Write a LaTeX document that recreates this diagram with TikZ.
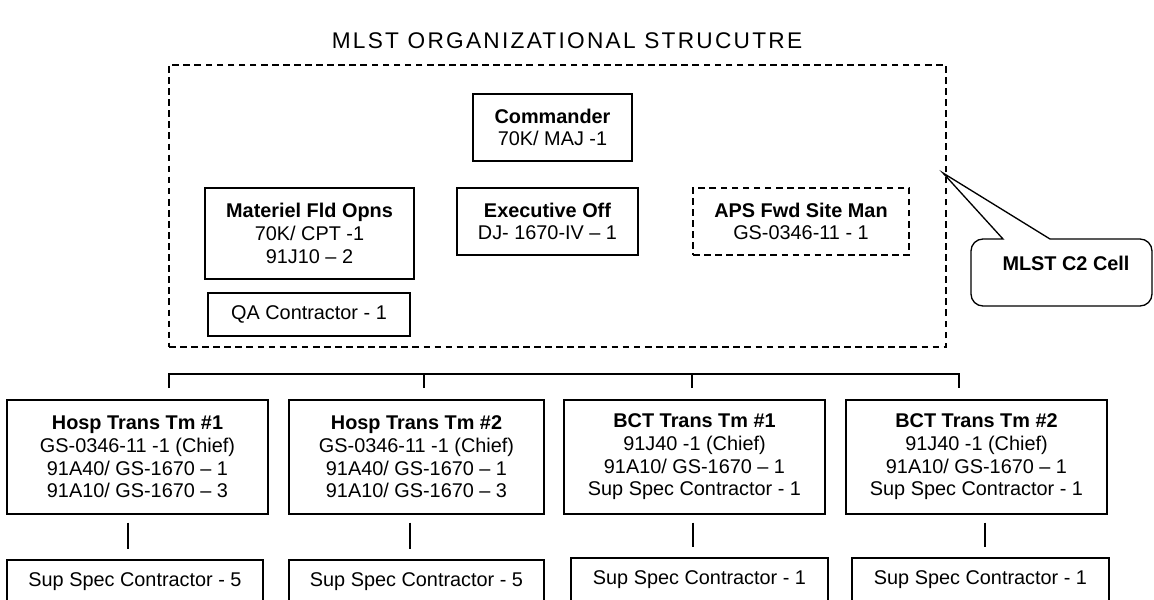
\documentclass[tikz,border=0pt]{standalone}
\usepackage{fontspec}
\setmainfont{Liberation Sans}
\usetikzlibrary{calc}

\tikzset{
  sz/.style 2 args={minimum width=#1*0.75pt, minimum height=#2*0.75pt},
  unitbox/.style={draw, line width=1.1pt, align=center, inner sep=0pt,
    font=\fontsize{14.9}{17}\selectfont},
  dashbox/.style={unitbox, dash pattern=on 5pt off 3.3pt},
  cellframe/.style={draw, line width=1.1pt, dash pattern=on 5pt off 3.3pt, inner sep=0pt},
  bus/.style={line width=1.1pt},
  stem/.style={line width=0.9pt},
  callout/.style={line width=1pt},
}

\begin{document}
\begin{tikzpicture}[x=0.75pt, y=-0.75pt]
  \useasboundingbox (0,0) rectangle (1154,600);
  %%%%% TITLE %%%%%
  \node[anchor=base, inner sep=0pt,
    font=\fontsize{17}{20}\selectfont\addfontfeatures{LetterSpace=10}] (title) at (567,48)
    {MLST ORGANIZATIONAL STRUCUTRE};

  %%%%% C2 CELL %%%%%
  \node[cellframe, sz={777}{282}] (c2) at (557.5,206) {};
  \node[unitbox, sz={159}{67}] (cmdr) at (552.5,127.5) {\textbf{Commander}\\70K/ MAJ -1};
  \node[unitbox, sz={209}{91}] (matl) at (309.5,233.5) {\textbf{Materiel Fld Opns}\\70K/ CPT -1\\91J10 – 2};
  \node[unitbox, sz={181}{67}] (xo) at (547.5,221.5) {\textbf{Executive Off}\\DJ- 1670-IV – 1};
  \node[dashbox, sz={216}{67}] (aps) at (801,221.5) {\textbf{APS Fwd Site Man}\\GS-0346-11 - 1};
  \node[unitbox, sz={202}{43}] (qa) at (309,314.5) {QA Contractor - 1};

  %%%%% CALLOUT %%%%%
  \coordinate (tip) at (943,173);
  \draw[callout] (1050,239) -- (1140,239) arc (-90:0:12) -- (1152,294) arc (0:90:12)
    -- (983,306) arc (90:180:12) -- (971,251) arc (180:270:12) -- (1003,239) -- (tip) -- cycle;
  \node[font=\fontsize{14.9}{17}\selectfont\bfseries] (c2lbl) at (1066,263) {MLST C2 Cell};

  %%%%% TEAMS %%%%%
  \node[unitbox, sz={261}{114}] (hosp1) at (137.5,457) {\textbf{Hosp Trans Tm \#1}\\GS-0346-11 -1 (Chief)\\91A40/ GS-1670 – 1\\91A10/ GS-1670 – 3};
  \node[unitbox, sz={255}{114}] (hosp2) at (416.5,457) {\textbf{Hosp Trans Tm \#2}\\GS-0346-11 -1 (Chief)\\91A40/ GS-1670 – 1\\91A10/ GS-1670 – 3};
  \node[unitbox, sz={261}{114}] (bct1) at (694.5,457) {\textbf{BCT Trans Tm \#1}\\91J40 -1 (Chief)\\91A10/ GS-1670 – 1\\Sup Spec Contractor - 1};
  \node[unitbox, sz={261}{114}] (bct2) at (976.5,457) {\textbf{BCT Trans Tm \#2}\\91J40 -1 (Chief)\\91A10/ GS-1670 – 1\\Sup Spec Contractor - 1};

  \node[unitbox, sz={256}{44}] (sup1) at (135,582) {Sup Spec Contractor - 5};
  \node[unitbox, sz={255}{44}] (sup2) at (416.5,582) {Sup Spec Contractor - 5};
  \node[unitbox, sz={257}{44}] (sup3) at (699.5,580) {Sup Spec Contractor - 1};
  \node[unitbox, sz={257}{44}] (sup4) at (980.5,580) {Sup Spec Contractor - 1};

  %%%%% LINES %%%%%
  \coordinate (bus1) at (169,388);
  \coordinate (bus2) at (424,388);
  \coordinate (bus3) at (692,388);
  \coordinate (bus4) at (959,388);
  \draw[bus] (bus1) -- ++(0,-14) -| (bus4);
  \draw[bus] (bus2) -- ++(0,-14);
  \draw[bus] (bus3) -- ++(0,-14);

  \draw[stem, shorten <=6pt, shorten >=7.5pt] ([xshift=-7.1pt]hosp1.south) -- ([xshift=-7.1pt]hosp1.south |- sup1.north);
  \draw[stem, shorten <=6pt, shorten >=7.5pt] ([xshift=-4.9pt]hosp2.south) -- ([xshift=-4.9pt]hosp2.south |- sup2.north);
  \draw[stem, shorten <=6pt, shorten >=7.5pt] ([xshift=-1.1pt]bct1.south) -- ([xshift=-1.1pt]bct1.south |- sup3.north);
  \draw[stem, shorten <=6pt, shorten >=7.5pt] ([xshift=6.4pt]bct2.south) -- ([xshift=6.4pt]bct2.south |- sup4.north);
\end{tikzpicture}
\end{document}
